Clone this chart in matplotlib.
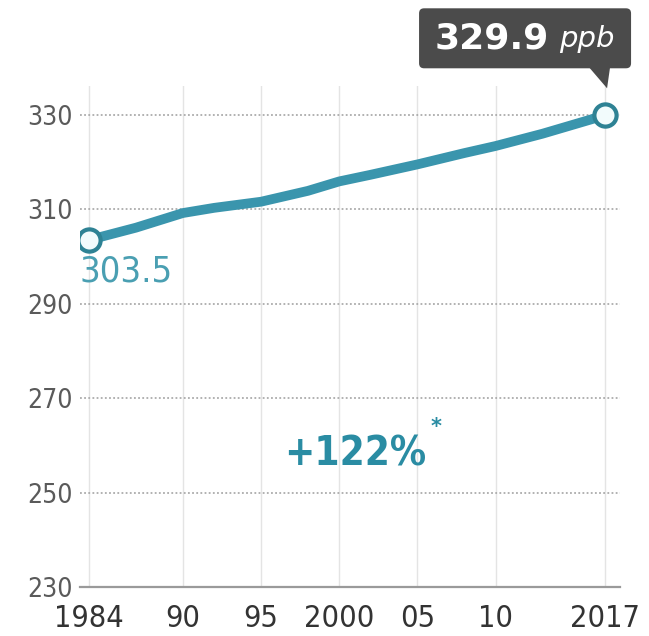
import matplotlib
matplotlib.use("Agg")
import matplotlib.pyplot as plt
import matplotlib.transforms as mtransforms
from matplotlib.patches import FancyBboxPatch, Polygon

# data
years = [1984, 1987, 1990, 1992, 1995, 1998, 2000, 2002, 2005, 2008, 2010, 2013, 2017]
n2o_ppb = [303.5, 306.1, 309.2, 310.3, 311.6, 313.9, 315.9, 317.3, 319.5, 321.9, 323.4, 326.0, 329.9]
x_ticks = [1984, 1990, 1995, 2000, 2005, 2010, 2017]
x_labels = ["1984", "90", "95", "2000", "05", "10", "2017"]
y_ticks = [230, 250, 270, 290, 310, 330]
change_label = "+122%"

line_col = "#3a95ad"
edge_col = "#2e8294"
box_col = "#4b4b4b"

fig = plt.figure(figsize=(6.49, 6.36), dpi=100)
ax = fig.add_axes([0.1227, 0.077, 0.832, 0.787])

ax.plot(years, n2o_ppb, color=line_col, lw=7, solid_capstyle="round",
        zorder=3, marker="o", markevery=[0, -1], markersize=16,
        markerfacecolor="#f2fbfc", markeredgecolor=edge_col,
        markeredgewidth=3)

ax.set_xlim(1983.4, 2017.93)
ax.set_ylim(230, 336)

# grid
for x in x_ticks:
    ax.axvline(x, color="#e4e4e4", lw=1, zorder=1)
for y in y_ticks[1:]:
    ax.axhline(y, color="#ababab", lw=1.3, ls=(0, (1, 1.3)), zorder=1)

for s in ["top", "right", "left"]:
    ax.spines[s].set_visible(False)
ax.spines["bottom"].set_color("#9a9a9a")
ax.spines["bottom"].set_linewidth(1.6)

ax.set_xticks(x_ticks)
ax.set_xticklabels(x_labels, family="DejaVu Sans", stretch="condensed",
                   fontsize=22, color="#333333")
ax.set_yticks(y_ticks)
ax.set_yticklabels([str(v) for v in y_ticks], family="DejaVu Sans",
                   stretch="condensed", fontsize=19, color="#5a5a5a")
ax.tick_params(axis="both", length=0)
ax.tick_params(axis="x", pad=12)
ax.tick_params(axis="y", pad=5)

# start label
ax.annotate("%.1f" % n2o_ppb[0], xy=(years[0], n2o_ppb[0]),
            xytext=(-7, -23), textcoords="offset points",
            ha="left", va="center", family="DejaVu Sans",
            stretch="condensed", fontsize=26, color="#4a9fb2")

# change label
ax.text(2001.0, 258, change_label, ha="center", va="center",
        family="DejaVu Sans", stretch="condensed", fontweight="bold",
        fontsize=29, color="#2a8ca3")
ax.text(2006.2, 263.8, "*", ha="center", va="center",
        family="DejaVu Sans", fontweight="bold", fontsize=15,
        color="#2a8ca3")

# end callout box, placed in inches relative to the last point
trans = fig.dpi_scale_trans + mtransforms.ScaledTranslation(
    years[-1], n2o_ppb[-1], ax.transData)
box = FancyBboxPatch((-1.86, 0.47), 2.12, 0.60,
                     boxstyle="round,pad=0,rounding_size=0.05",
                     fc=box_col, ec="none", transform=trans,
                     clip_on=False, zorder=5)
ax.add_artist(box)
ptr = Polygon([(-0.16, 0.48), (0.05, 0.48), (0.02, 0.27)], closed=True,
              fc=box_col, ec="none", transform=trans, clip_on=False,
              zorder=5)
ax.add_artist(ptr)
ax.text(-0.56, 0.765, "%.1f" % n2o_ppb[-1], transform=trans, ha="right",
        va="center", family="DejaVu Sans", fontweight="bold",
        fontsize=26, color="white", zorder=6, clip_on=False)
ax.text(-0.46, 0.765, "ppb", transform=trans, ha="left", va="center",
        family="DejaVu Sans", style="italic", fontsize=21,
        color="white", zorder=6, clip_on=False)

fig.savefig("out.png", dpi=100, facecolor="white")
